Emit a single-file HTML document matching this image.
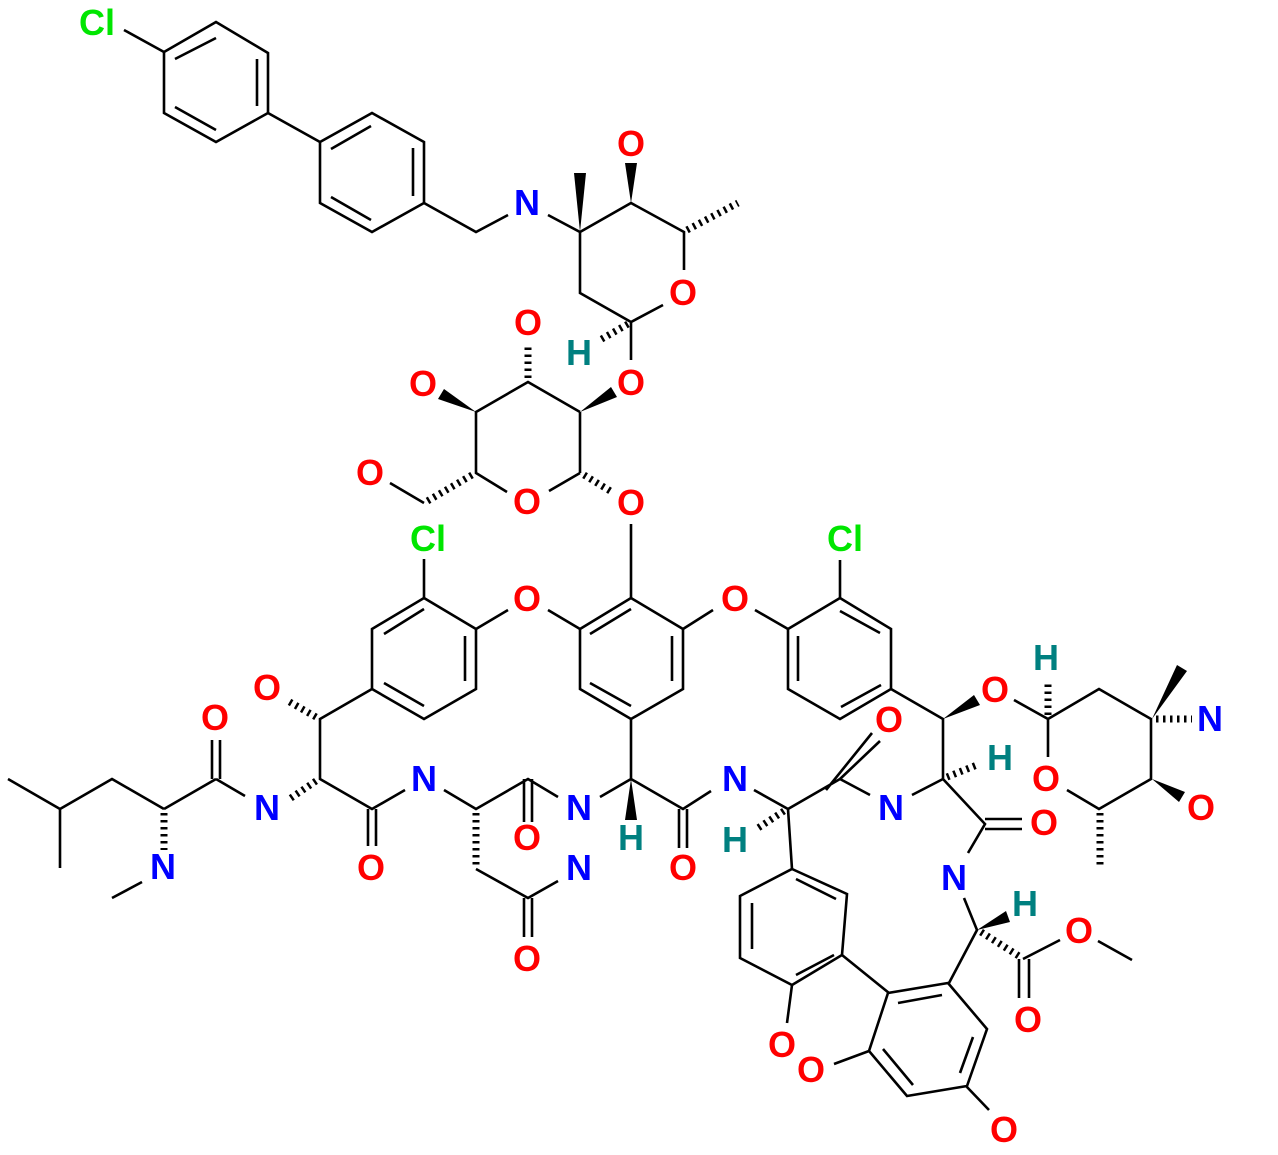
<!DOCTYPE html>
<html><head><meta charset="utf-8"><style>
html,body{margin:0;padding:0;background:#fff;}
svg{display:block;}
text{font-family:"Liberation Sans",Arial,sans-serif;font-weight:bold;font-size:36px;text-anchor:middle;}
.O{fill:#ff0000}.N{fill:#0000ff}.C{fill:#00e600}.H{fill:#008080}
</style></head><body>
<svg width="1278" height="1155" viewBox="0 0 1278 1155" xmlns="http://www.w3.org/2000/svg">
<g stroke="#000" stroke-width="2.6" fill="none" stroke-linecap="butt">
<path d="M124,30L164,52 M268,113L320,142 M424,203L476,232L508,215 M548,215L580,232L631,203L684,232L684,270 M663,305L631,322L580,293L580,232 M631,322L631,360
M580,412L580,473 M580,412L528,382L476,412L476,473L507,492 M549,491L580,473 M424,503L390,483 M631,524L631,598 M424,559L424,598
M476,629L508,610 M548,610L580,629 M683,629L713,610 M755,610L788,629 M840,598L840,560
M372,689L320,719L320,779L372,809L405,790 M444,790L476,809L528,779L558,797 M476,869L528,898L558,881
M368,809L368,846 M376,809L376,846 M524,779L524,822 M532,779L532,822 M524,898L524,937 M532,898L532,937
M212,740L212,779 M220,740L220,779 M216,779L245,796 M164,809L216,779 M164,809L112,779L60,809L8,779 M60,809L60,868 M142,882L112,898
M631,719L631,779 M600,797L631,779L683,809L711,791 M679,809L679,848 M687,809L687,848 M754,790L788,809L840,779 M826,790L872,733 M840,779L880,741
M840,779L870,795 M912,795L943,779L943,719L891,689 M943,779L985,824L968,853 M985,819L1022,819 M985,829L1022,829 M964,898L977,930L949,983
M1023,959L1060,940 M1098,941L1132,960 M1019,959L1019,998 M1029,959L1029,998
M966,1086L989,1110 M869,1051L834,1064 M788,809L792,869 M842,955L889,993 M792,985L787,1023
M1014,700L1048,719L1099,689L1151,719L1151,779L1099,809L1067,790 M1048,719L1048,757"/>
<polygon points="164,52 216,22 268,53 268,113 216,142 164,113"/>
<path d="M175,59L216,38 M257,59L257,106 M175,107L216,130"/>
<polygon points="320,142 372,113 424,142 424,203 372,232 320,203"/>
<path d="M331,149L371,126 M413,148L413,196 M331,197L371,220"/>
<polygon points="424,598 476,629 476,689 424,719 372,689 372,629"/>
<path d="M384,634L424,609 M465,636L465,681 M384,683L424,706"/>
<polygon points="580,629 631,598 683,629 683,689 631,719 580,689"/>
<path d="M590,634L631,609 M672,636L672,681 M590,683L631,706"/>
<polygon points="788,629 840,598 891,629 891,689 840,719 788,689"/>
<path d="M798,636L798,681 M840,611L880,633 M881,685L841,707"/>
<polygon points="948,983 987,1029 967,1086 907,1096 869,1051 888,993"/>
<path d="M898,1003L942,995 M973,1037L960,1073 M883,1049L913,1085"/>
<polygon points="792,869 847,894 842,955 792,985 740,958 740,896"/>
<path d="M796,879L836,899 M796,975L834,955 M752,903L752,949"/>
</g>
<g fill="#000">
<polygon points="580,232 574,173 586,173"/>
<polygon points="631,203 625,163 637,163"/>
<polygon points="580,412 617,397 611,387"/>
<polygon points="476,412 444,389 438,399"/>
<polygon points="631,779 625,820 637,820"/>
<polygon points="943,719 980,705 974,695"/>
<polygon points="1152,719 1187,671 1177,665"/>
<polygon points="1152,779 1179,802 1185,792"/>
<polygon points="977,930 1010,922 1006,911"/>
</g>
<g stroke="#000" stroke-width="7" stroke-dasharray="2.5 4.5" fill="none">
<path d="M687,230L738,203 M628,324L600,340 M528,378L528,343 M584,475L612,492 M472,475L424,503 M316,717L288,701 M316,781L288,800
M476,813L476,866 M164,813L164,850 M784,811L758,828 M947,777L977,765 M1048,715L1048,682 M1156,719L1192,719 M1100,813L1100,868 M981,932L1022,958"/>
</g>
<text x="97" y="35" class="C">Cl</text>
<text x="527" y="215" class="N">N</text>
<text x="631" y="156" class="O">O</text>
<text x="683" y="305" class="O">O</text>
<text x="579" y="365" class="H">H</text>
<text x="631" y="395" class="O">O</text>
<text x="528" y="335" class="O">O</text>
<text x="423" y="396" class="O">O</text>
<text x="527" y="514" class="O">O</text>
<text x="370" y="485" class="O">O</text>
<text x="631" y="515" class="O">O</text>
<text x="428" y="551" class="C">Cl</text>
<text x="845" y="551" class="C">Cl</text>
<text x="527" y="611" class="O">O</text>
<text x="735" y="611" class="O">O</text>
<text x="267" y="700" class="O">O</text>
<text x="215" y="730" class="O">O</text>
<text x="267" y="820" class="N">N</text>
<text x="163" y="879" class="N">N</text>
<text x="371" y="880" class="O">O</text>
<text x="424" y="791" class="N">N</text>
<text x="527" y="850" class="O">O</text>
<text x="579" y="820" class="N">N</text>
<text x="631" y="850" class="H">H</text>
<text x="579" y="880" class="N">N</text>
<text x="527" y="971" class="O">O</text>
<text x="683" y="880" class="O">O</text>
<text x="735" y="791" class="N">N</text>
<text x="735" y="852" class="H">H</text>
<text x="889" y="732" class="O">O</text>
<text x="891" y="820" class="N">N</text>
<text x="995" y="702" class="O">O</text>
<text x="1000" y="770" class="H">H</text>
<text x="1046" y="670" class="H">H</text>
<text x="1210" y="731" class="N">N</text>
<text x="1046" y="791" class="O">O</text>
<text x="1201" y="820" class="O">O</text>
<text x="1044" y="835" class="O">O</text>
<text x="954" y="890" class="N">N</text>
<text x="1025" y="916" class="H">H</text>
<text x="1079" y="943" class="O">O</text>
<text x="1028" y="1032" class="O">O</text>
<text x="1004" y="1142" class="O">O</text>
<text x="811" y="1082" class="O">O</text>
<text x="782" y="1057" class="O">O</text>
</svg>
</body></html>
